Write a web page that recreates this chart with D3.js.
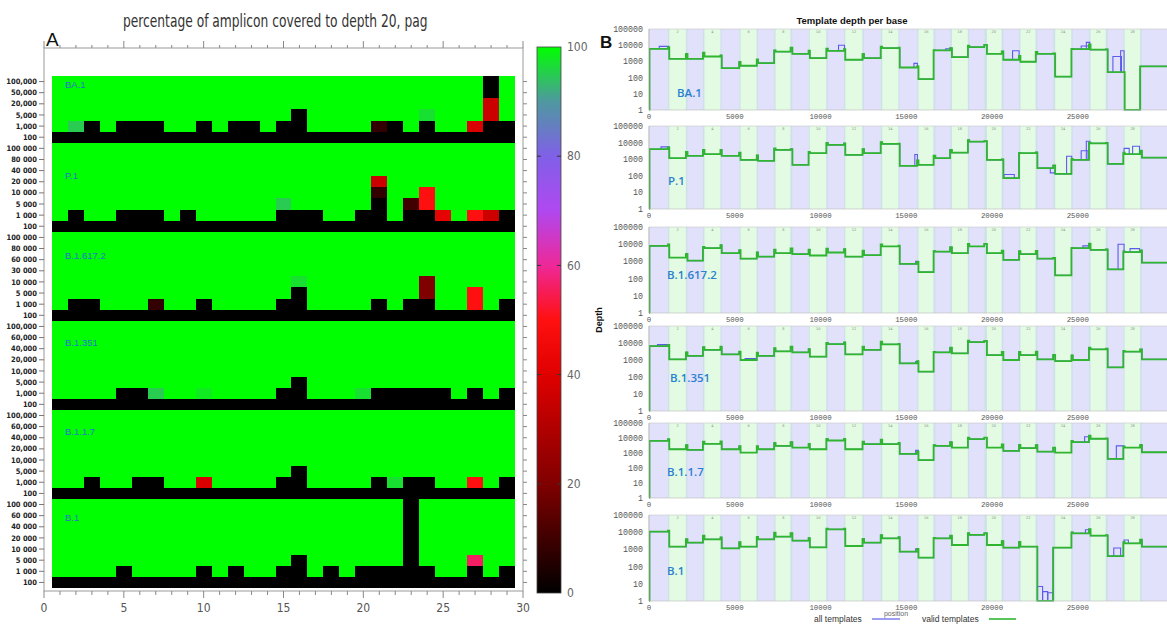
<!DOCTYPE html>
<html><head><meta charset="utf-8">
<script src="https://cdn.jsdelivr.net/npm/d3@7"></script>
<style>body{margin:0;background:#fff}svg{display:block}</style>
</head><body>
<svg id="c" width="1167" height="624"></svg>
<script>
// ================= DATA =================
const variants = ["BA.1","P.1","B.1.617.2","B.1.351","B.1.1.7","B.1"];

// Panel A: row (depth threshold) labels, top -> bottom
const rowLabels = {
  "BA.1":      ["100,000","50,000","20,000","5,000","1,000","100"],
  "P.1":       ["100 000","80 000","40 000","20 000","10 000","5 000","1 000","100"],
  "B.1.617.2": ["100 000","80 000","60 000","30 000","10 000","5 000","1 000","100"],
  "B.1.351":   ["100,000","60,000","40,000","20,000","10,000","5,000","1,000","100"],
  "B.1.1.7":   ["100,000","60,000","40,000","20,000","10,000","5,000","1,000","100"],
  "B.1":       ["100 000","60 000","40 000","20 000","10 000","5 000","1 000","100"]
};
// number of rows (from bottom) with 0% coverage, per amplicon 1..29
const zeroRows = {
  "BA.1":      [1,1,2,1,2,2,2,1,1,2,1,2,2,1,2,3,1,1,1,1,1,2,1,2,1,1,1,2,2],
  "P.1":       [1,2,1,1,2,2,2,1,2,1,1,1,1,1,2,2,2,1,1,2,3,1,2,2,1,1,1,1,2],
  "B.1.617.2": [1,2,2,1,1,1,1,1,1,2,1,1,1,1,2,3,1,1,1,1,2,1,2,2,1,1,1,1,2],
  "B.1.351":   [1,1,1,1,2,2,1,1,1,1,1,1,1,1,2,3,1,1,1,1,2,2,2,2,2,1,2,1,2],
  "B.1.1.7":   [1,1,2,1,1,2,2,1,1,1,1,1,1,1,2,3,1,1,1,1,2,1,2,2,1,1,1,1,2],
  "B.1":       [1,1,1,1,2,1,1,1,1,2,1,2,1,1,2,3,1,2,1,2,2,2,8,2,1,1,2,1,2]
};
// partial-coverage cells: [amplicon, row index from bottom, percent]
const partialCells = {
  "BA.1":      [[2,1,95],[21,1,8],[24,2,97],[27,1,39],[28,2,36],[28,3,36],[28,4,0],[28,5,0]],
  "P.1":       [[15,2,95],[21,3,8],[21,4,36],[23,2,10],[24,2,50],[24,3,50],[25,1,42],[27,1,50],[28,1,36]],
  "B.1.617.2": [[7,1,8],[16,3,97],[24,2,20],[24,3,20],[27,1,50],[27,2,50]],
  "B.1.351":   [[7,1,95],[10,1,98],[20,1,97]],
  "B.1.1.7":   [[10,1,39],[22,1,97],[27,1,50]],
  "B.1":       [[27,2,56]]
};
const ampliconIds = d3.range(1, 30);
const xTicksA = [0,5,10,15,20,25,30];
const paletteStops = [0,20,40,50,60,70,80,90,100];
const paletteColors = ["#000000","#800000","#e00000","#ff1010","#ee2898","#b048f0","#8060e8","#4f98a0","#00ff00"];
const colorbarTicks = [0,20,40,60,80,100];

// Panel B: amplicon coordinates (bp)
const ampStarts = [30,1100,2153,3144,4167,5257,6283,7298,8253,9303,10343,11372,12450,13509,14546,15632,16594,17555,18594,19548,20567,21575,22551,23564,24633,25653,26635,27659,28639];
const ampEnds   = [1183,2244,3235,4240,5337,6358,7379,8363,9378,10429,11447,12538,13599,14619,15713,16698,17661,18676,19702,20664,21658,22647,23683,24711,25745,26745,27733,28742,29836];
// valid-template depth per amplicon
const validDepth = {
  "BA.1":      [6000,1450,1450,2000,380,540,780,4000,2950,1600,4500,1260,1600,6600,420,80,4800,1840,7600,2950,1260,950,2950,115,5800,5300,215,0,500],
  "P.1":       [4000,1150,1600,2000,1600,900,800,3600,460,2300,7200,1800,2300,8300,400,460,1150,2500,11500,900,72,2300,290,130,900,9100,520,2000,1250],
  "B.1.617.2": [8000,1670,1100,5900,3000,1450,1900,3000,2650,2200,3300,1900,2300,7400,710,240,3700,3000,7400,3000,1230,2650,1450,155,5900,4700,345,3500,850],
  "B.1.351":   [6600,1100,1730,3900,2150,1000,1730,3200,2800,1580,8700,2150,3900,8300,640,205,2800,2470,11400,1960,1000,1960,1100,870,1000,4250,370,3100,1100],
  "B.1.1.7":   [6500,1780,1600,4100,1780,1070,1780,3000,2300,1780,6800,1780,3900,3900,870,340,3000,2300,8400,2300,1380,2100,1240,1070,5300,8900,400,2300,1120],
  "B.1":       [10700,1450,2450,3850,1150,1450,3850,5500,3200,1320,14700,1580,2450,4400,740,330,4400,1800,6900,1800,1260,1450,0,1260,8500,6300,410,2250,1450]
};
// stretches where "all templates" exceeds valid: [start bp, end bp, depth]
const allTemplateExtras = {
  "BA.1":      [[600,1150,8500],[11050,11400,10000],[15450,15650,750],[17300,17650,6000],[21200,21580,4500],[25200,25650,9000],[25500,25700,15000],[27050,27550,2000],[27500,27700,4500]],
  "P.1":       [[700,1150,5500],[15500,15650,1900],[20700,21300,120],[23400,23700,150],[24350,24650,1500],[25200,25600,3200],[25500,25700,12000],[27700,28000,4500],[28200,28600,6000]],
  "B.1.617.2": [[15550,15700,1000],[25300,25650,8000],[27350,27700,10000],[28050,28600,5500]],
  "B.1.351":   [[500,1150,8000],[5600,6200,1200],[15550,15700,800]],
  "B.1.1.7":   [[25400,25700,12000],[27250,27700,3000],[15550,15700,1500]],
  "B.1":       [[22650,22950,7],[22950,23250,3.5],[23250,23550,3],[25450,25700,14000],[27100,27500,1200],[27700,27950,3500],[15550,15700,1100]]
};
const depthTicks = [1,10,100,1000,10000,100000];
const positionTicks = [0,5000,10000,15000,20000,25000];

// ================= DRAW =================
const svg = d3.select("#c");
const NARROW = "'Liberation Sans Narrow','DejaVu Sans Condensed','Roboto Condensed',sans-serif";
const SANS = "'Liberation Sans',Arial,sans-serif";

// ---------- Panel A ----------
const xA = d3.scaleLinear().domain([0,30]).range([44,523]);
const rowKeys = [];
variants.forEach(v => rowLabels[v].forEach((l,i) => rowKeys.push(v+"|"+i)));
const yA = d3.scaleBand().domain(rowKeys).range([76,588]);
const heat = d3.scaleLinear().domain(paletteStops).range(paletteColors).clamp(true);

const cells = [];
variants.forEach(v => {
  const n = rowLabels[v].length;
  const map = {};
  ampliconIds.forEach((c,ci) => {
    for (let r = 0; r < n; r++) {
      const fromBottom = n-1-r;
      const d = {v, c, r, val: fromBottom < zeroRows[v][ci] ? 0 : 100};
      map[c+"_"+fromBottom] = d; cells.push(d);
    }
  });
  partialCells[v].forEach(([c,ib,val]) => { map[c+"_"+ib].val = val; });
});

const gA = svg.append("g");
gA.append("g").selectAll("rect").data(cells).join("rect")
  .attr("x", d => xA(d.c-0.5)).attr("width", d => xA(d.c+0.5)-xA(d.c-0.5))
  .attr("y", d => yA(d.v+"|"+d.r)).attr("height", yA.bandwidth()+0.3)
  .attr("fill", d => heat(d.val)).attr("shape-rendering","crispEdges");

gA.append("rect").attr("x",44).attr("y",48).attr("width",479).attr("height",543)
  .attr("fill","none").attr("stroke","#9a9a9a").attr("stroke-width",1);
d3.range(0,31).forEach(i => {
  const maj = i%5===0;
  gA.append("line").attr("x1",xA(i)).attr("x2",xA(i)).attr("y1",48).attr("y2",48-(maj?7:3)).attr("stroke","#888");
  gA.append("line").attr("x1",xA(i)).attr("x2",xA(i)).attr("y1",591).attr("y2",591+(maj?7:4)).attr("stroke","#888");
});
gA.selectAll("text.xa").data(xTicksA).join("text").attr("class","xa")
  .attr("x", d => xA(d)).attr("y", 612).attr("text-anchor","middle")
  .attr("font-family", NARROW).attr("font-size", 12).attr("fill","#555").text(d => d);
rowKeys.forEach(k => {
  const [v,i] = k.split("|");
  const yc = yA(k) + yA.bandwidth()/2;
  gA.append("line").attr("x1",39).attr("x2",44).attr("y1",yc).attr("y2",yc).attr("stroke","#777");
  gA.append("line").attr("x1",523).attr("x2",527).attr("y1",yc).attr("y2",yc).attr("stroke","#888");
  gA.append("text").attr("x",37).attr("y",yc).attr("dy","0.35em").attr("text-anchor","end")
    .attr("font-family",NARROW).attr("font-weight","bold").attr("font-size",7.5).attr("fill","#222")
    .text(rowLabels[v][+i]);
});
const heatLabelRow = [0.8,3.0,2.1,2.0,2.0,1.7];
variants.forEach((v,i) => {
  gA.append("text").attr("x", 65).attr("y", yA(v+"|0") + heatLabelRow[i]*yA.bandwidth())
    .attr("dy","0.35em").attr("font-family",SANS).attr("font-size",9.5)
    .attr("fill","#2277cc").text(v);
});
svg.append("clipPath").attr("id","tclip").append("rect").attr("x",0).attr("y",0).attr("width",428).attr("height",40);
svg.append("text").attr("clip-path","url(#tclip)").attr("x",123).attr("y",27)
  .attr("font-family",NARROW).attr("font-size",17.5).attr("fill","#333")
  .attr("textLength",312).attr("lengthAdjust","spacingAndGlyphs")
  .text("percentage of amplicon covered to depth 20, page");
svg.append("text").attr("x",46).attr("y",46).attr("font-family",SANS)
  .attr("font-size",19).attr("fill","#111").text("A");

// colorbar
const cb = d3.scaleLinear().domain([0,100]).range([593,47]);
const grad = svg.append("defs").append("linearGradient").attr("id","cbg")
  .attr("x1",0).attr("y1",1).attr("x2",0).attr("y2",0);
paletteStops.forEach((s,i) => grad.append("stop").attr("offset", s/100).attr("stop-color", paletteColors[i]));
svg.append("rect").attr("x",537).attr("y",47).attr("width",24).attr("height",546)
  .attr("fill","url(#cbg)").attr("stroke","#444").attr("stroke-width",0.8);
colorbarTicks.forEach(t => {
  if (t>0 && t<100) {
    svg.append("line").attr("x1",537).attr("x2",541).attr("y1",cb(t)).attr("y2",cb(t)).attr("stroke","#333");
    svg.append("line").attr("x1",557).attr("x2",561).attr("y1",cb(t)).attr("y2",cb(t)).attr("stroke","#333");
  }
  svg.append("text").attr("x",567).attr("y",cb(t)).attr("dy","0.35em")
    .attr("font-family",NARROW).attr("font-size",12).attr("fill","#666").text(t);
});

// ---------- Panel B ----------
const px = d3.scaleLinear().domain([0,30000]).range([649, 649+30000*0.01715]);
const panelBox = [[29,110],[126,209],[227,313],[326,411],[423,498],[515,601]];
const panelLabelPos = [[677,93],[668,181],[667,275],[670,378],[667,472],[667,571]];
const lastEnd = ampEnds[ampEnds.length-1];
const bps = Array.from(new Set([0,...ampStarts,...ampEnds])).filter(b => b < lastEnd).sort((a,b)=>a-b);
function depthAt(depths, x) {
  let s = 0;
  for (let k=0;k<ampStarts.length;k++) if (x>=ampStarts[k] && x<ampEnds[k]) s += depths[k];
  return s;
}
function stepData(depths) {
  const ends = bps.concat([lastEnd]);
  const pts = bps.map((a,i) => [a, depthAt(depths,(a+ends[i+1])/2)]);
  // plot area is cropped at the page edge: last level continues to it
  pts.push([31000, pts[pts.length-1][1]]);
  return pts;
}

variants.forEach((v,i) => {
  const [top,bot] = panelBox[i];
  const y = d3.scaleLog().domain([1,100000]).range([bot,top]);
  const g = svg.append("g");
  const cid = "pc"+i;
  g.append("clipPath").attr("id",cid).append("rect").attr("x",649).attr("y",top-2).attr("width",520).attr("height",bot-top+2.5);
  const pg = g.append("g").attr("clip-path","url(#"+cid+")");
  pg.selectAll("rect.band").data(ampStarts).join("rect").attr("class","band")
    .attr("x", s => px(s)).attr("width", (s,k) => (k===28 ? 1200 : px(ampEnds[k])-px(s)))
    .attr("y", top).attr("height", bot-top)
    .attr("fill", (s,k) => k%2===0 ? "#e1e1fb" : "#e2fbe2");
  pg.selectAll("rect.ov").data(ampStarts.slice(1)).join("rect").attr("class","ov")
    .attr("x", s => px(s)).attr("width", (s,k) => Math.max(0.6, px(ampEnds[k])-px(s)))
    .attr("y", top).attr("height", bot-top).attr("fill","#cfe0ea");
  g.append("line").attr("x1",649).attr("x2",1167).attr("y1",top).attr("y2",top).attr("stroke","#c8c8c8").attr("stroke-width",0.6);
  g.append("line").attr("x1",649).attr("x2",1167).attr("y1",bot).attr("y2",bot).attr("stroke","#bbb").attr("stroke-width",0.6);
  g.append("line").attr("x1",649).attr("x2",649).attr("y1",top).attr("y2",bot).attr("stroke","#999").attr("stroke-width",0.8);
  const line = d3.line().x(d => px(d[0])).y(d => y(Math.max(1,d[1]))).curve(d3.curveStepAfter);
  const sd = stepData(validDepth[v]);
  pg.append("path").attr("d", line(sd)).attr("fill","none").attr("stroke","#5b5bea").attr("stroke-width",1.1);
  allTemplateExtras[v].forEach(([s,e,dv]) => {
    const pts = [[s,depthAt(validDepth[v],s)],[s,dv],[e,dv],[e,depthAt(validDepth[v],e)]];
    pg.append("path").attr("d", d3.line().x(d=>px(d[0])).y(d=>y(Math.max(1,d[1])))(pts))
      .attr("fill","none").attr("stroke","#5b5bea").attr("stroke-width",1.1);
  });
  pg.append("path").attr("d", line(sd)).attr("fill","none").attr("stroke","#2fb52f").attr("stroke-width",1.8);
  depthTicks.forEach(t => g.append("text").attr("x",643).attr("y",y(t)).attr("dy","0.35em").attr("text-anchor","end")
    .attr("font-family","'Liberation Mono','DejaVu Sans Mono',monospace").attr("font-size",8.3).attr("fill","#555").text(t));
  positionTicks.forEach(t => g.append("text").attr("x",px(t)).attr("y",bot+8.5).attr("text-anchor","middle")
    .attr("font-family","'Liberation Mono','DejaVu Sans Mono',monospace").attr("font-size",7.4).attr("fill","#555").text(t));
  ampStarts.forEach((s,k) => {
    if ((k+1)%2===0) g.append("text").attr("x",px((s+ampEnds[k])/2)).attr("y",top+4).attr("text-anchor","middle")
      .attr("font-family","'DejaVu Sans',sans-serif").attr("font-size",3.5).attr("fill","#888").text(k+1);
  });
  g.append("text").attr("x",panelLabelPos[i][0]).attr("y",panelLabelPos[i][1]).attr("dy","0.35em")
    .attr("font-family","'Open Sans',sans-serif").attr("font-weight",600).attr("font-size",11.5)
    .attr("fill","#2a80d0").text(v);
});
svg.append("text").attr("x",852).attr("y",24).attr("text-anchor","middle")
  .attr("font-family",SANS).attr("font-weight","bold").attr("font-size",9.5)
  .attr("fill","#111").text("Template depth per base");
svg.append("text").attr("x",600).attr("y",48).attr("font-family",SANS)
  .attr("font-weight","bold").attr("font-size",17).attr("fill","#111").text("B");
svg.append("text").attr("transform","translate(602,320) rotate(-90)").attr("text-anchor","middle")
  .attr("font-family",SANS).attr("font-weight","bold").attr("font-size",9)
  .attr("fill","#111").text("Depth");
svg.append("text").attr("x",896).attr("y",616).attr("text-anchor","middle")
  .attr("font-family",SANS).attr("font-size",7).attr("fill","#666").text("position");
// legend
svg.append("text").attr("x",814).attr("y",622).attr("font-family",SANS)
  .attr("font-size",8.5).attr("fill","#333").text("all templates");
svg.append("line").attr("x1",872).attr("x2",900).attr("y1",619).attr("y2",619).attr("stroke","#5b5bea").attr("stroke-width",1.2);
svg.append("text").attr("x",922).attr("y",622).attr("font-family",SANS)
  .attr("font-size",8.5).attr("fill","#333").text("valid templates");
svg.append("line").attr("x1",989).attr("x2",1016).attr("y1",619).attr("y2",619).attr("stroke","#2fb52f").attr("stroke-width",1.6);
</script>
</body></html>
